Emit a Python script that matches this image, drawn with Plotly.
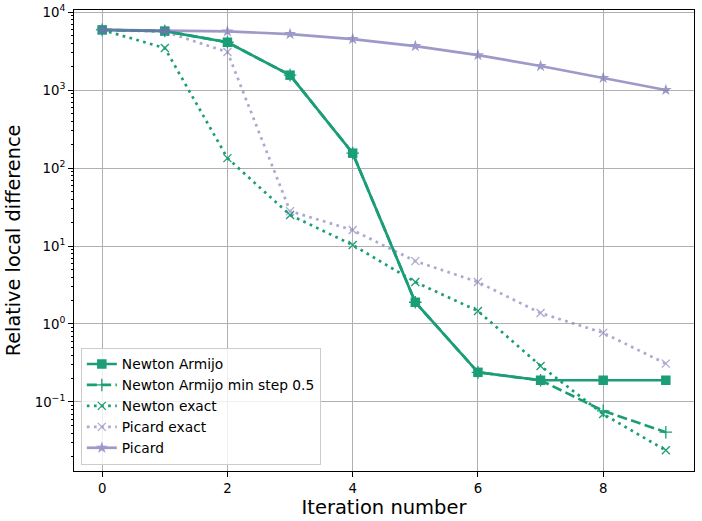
import plotly.graph_objects as go

iterations = [0, 1, 2, 3, 4, 5, 6, 7, 8, 9]
newton_armijo = [5900, 5700, 4100, 1550, 155, 1.9, 0.24, 0.19, 0.19, 0.19]
newton_armijo_min05 = [5900, 5700, 4100, 1550, 155, 1.9, 0.24, 0.19, 0.077, 0.041]
newton_exact = [5900, 3450, 134, 25, 10.3, 3.45, 1.47, 0.29, 0.070, 0.024]
picard_exact = [5900, 5600, 3070, 28, 16, 6.4, 3.45, 1.38, 0.77, 0.31]
picard = [5900, 5750, 5650, 5220, 4500, 3660, 2800, 2030, 1430, 1000]

GREEN = "#1b9e77"
PURPLE = "#7570b3"

fig = go.Figure()
fig.add_trace(go.Scatter(x=iterations, y=newton_armijo, name="Newton Armijo", mode="lines+markers",
                         line=dict(color=GREEN, width=2.7),
                         marker=dict(symbol="square", size=9.5, color=GREEN)))
fig.add_trace(go.Scatter(x=iterations, y=newton_armijo_min05, name="Newton Armijo min step 0.5", mode="lines+markers",
                         line=dict(color=GREEN, width=2.7, dash="10px,4.3px"),
                         marker=dict(symbol="cross-thin", size=9, color=GREEN, line=dict(color=GREEN, width=1.3))))
fig.add_trace(go.Scatter(x=iterations, y=newton_exact, name="Newton exact", mode="lines+markers",
                         line=dict(color=GREEN, width=2.7, dash="2.7px,4.4px"),
                         marker=dict(symbol="x-thin", size=8, color=GREEN, line=dict(color=GREEN, width=1.3))))
fig.add_trace(go.Scatter(x=iterations, y=picard_exact, name="Picard exact", mode="lines+markers",
                         opacity=0.6,
                         line=dict(color=PURPLE, width=2.7, dash="2.7px,4.4px"),
                         marker=dict(symbol="x-thin", size=8, color=PURPLE, line=dict(color=PURPLE, width=1.3))))
fig.add_trace(go.Scatter(x=iterations, y=picard, name="Picard", mode="lines+markers",
                         opacity=0.7,
                         line=dict(color=PURPLE, width=2.7),
                         marker=dict(symbol="star", size=9, color=PURPLE)))

ytick_vals = [0.1, 1, 10, 100, 1000, 10000]
ytick_text = ["10<sup>−1</sup>", "10<sup>0</sup>", "10<sup>1</sup>", "10<sup>2</sup>", "10<sup>3</sup>", "10<sup>4</sup>"]
yminor_vals = [m * 10 ** e for e in range(-2, 4) for m in range(2, 10)]

fig.update_layout(
    width=702, height=521,
    margin=dict(l=74, r=8, t=10, b=50),
    plot_bgcolor="white", paper_bgcolor="white",
    font=dict(family="DejaVu Sans", size=13.3, color="black"),
    showlegend=True,
    legend=dict(x=0.011, y=0.014, xanchor="left", yanchor="bottom",
                bgcolor="rgba(255,255,255,0.8)", bordercolor="#cccccc", borderwidth=1,
                font=dict(size=13.8), tracegroupgap=0, itemwidth=30),
)
fig.update_xaxes(range=[-0.45, 9.45], tickvals=[0, 2, 4, 6, 8], showgrid=True, gridcolor="#b0b0b0", gridwidth=1,
                 showline=True, linecolor="black", linewidth=1, mirror=True, ticks="outside", ticklen=5,
                 tickcolor="black", zeroline=False, automargin=False,
                 title=dict(text="Iteration number", font=dict(size=19.5), standoff=4))
fig.update_yaxes(type="log", range=[-1.885, 4.026], tickvals=ytick_vals, ticktext=ytick_text,
                 showgrid=True, gridcolor="#b0b0b0", gridwidth=1,
                 showline=True, linecolor="black", linewidth=1, mirror=True, ticks="outside", ticklen=5,
                 tickcolor="black", zeroline=False, automargin=False,
                 minor=dict(ticks="outside", ticklen=2.5, tickcolor="black", tickvals=yminor_vals, showgrid=False),
                 title=dict(text="Relative local difference", font=dict(size=19.3), standoff=8))

fig.write_html("out.html", config={"displayModeBar": False},
               post_script="document.body.style.margin='0';document.body.style.overflow='hidden';")
